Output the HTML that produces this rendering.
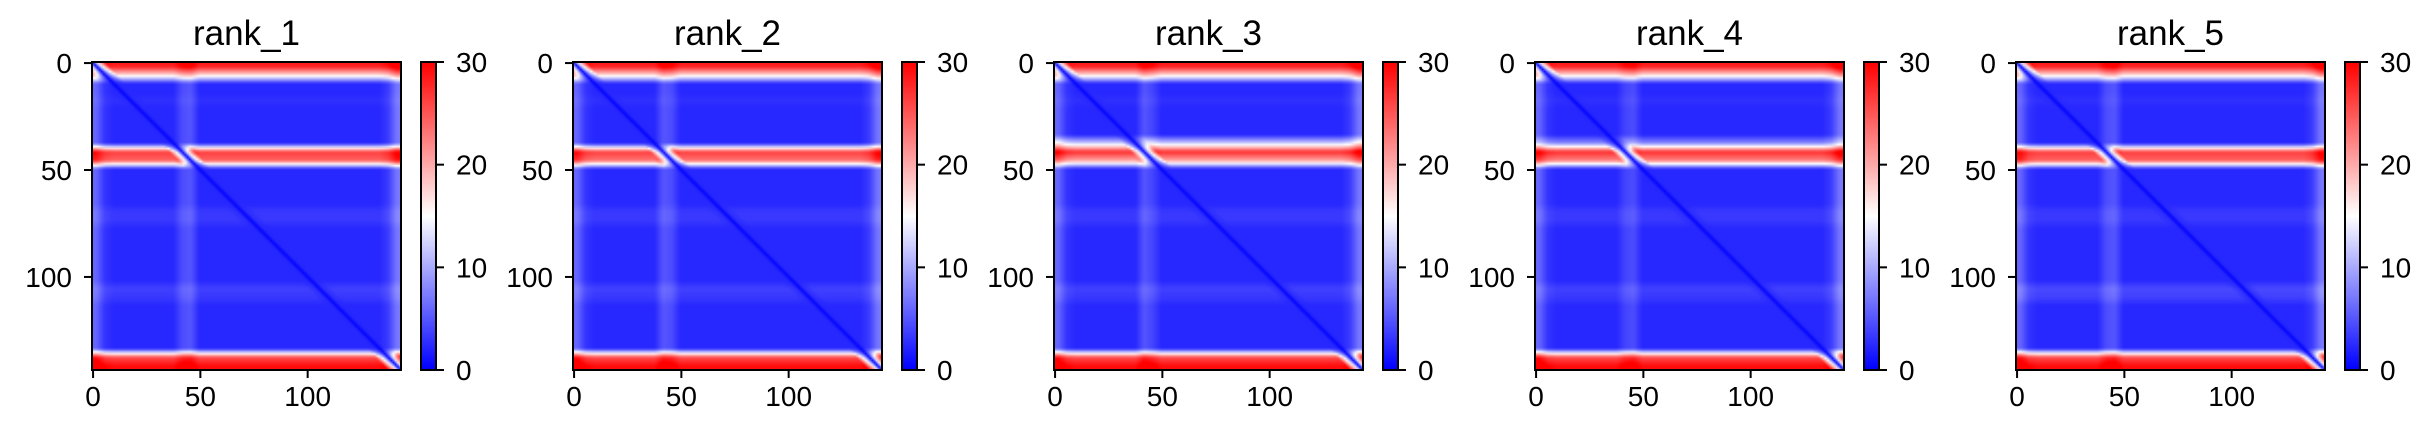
<!DOCTYPE html>
<html><head><meta charset="utf-8">
<style>
html,body{margin:0;padding:0;background:#fff;}
#fig{position:relative;width:2435px;height:438px;overflow:hidden;font-family:"Liberation Sans",sans-serif;}
</style></head>
<body>
<div id="fig"></div>
<script>
// residues and axis ticks
const nRes = 144;
const axisTicks = [0, 50, 100];
const cbarTicks = [0, 10, 20, 30];
const vmin = 0, vmax = 30;
const panelTitles = ["rank_1", "rank_2", "rank_3", "rank_4", "rank_5"];
// per-residue row error profiles in 4-residue bins (36 bins)
const rowErr1 = [28,17,2,2,2.5,2,2,2,2,2,26,24,2,2,2,2,2,3,3,2,2,2,2,2,2,2,3.5,3,2,2,2,2,2,2,25,29];
const rowErr2 = [28,17,2,2,2.5,2,2,2,2,2,26,23,2,2,2,2,2,3,3,2,2,2,2,2,2,2,3.5,3,2,2,2,2,2,2,25,29];
const rowErr3 = [28,17,2,2,2.5,2,2,2,2,12,27,20,2,2,2,2,2,3,3,2,2,2,2,2,2,2,3.5,3,2,2,2,2,2,2,25,29];
const rowErr4 = [28,17,2,2,2.5,2,2,2,2,8,27,22,2,2,2,2,2,3,3,2,2,2,2,2,2,2,3.5,3,2,2,2,2,2,2,25,29];
const rowErr5 = [28,17,2,2,2.5,2,2,2,2,2,26,24,2,2,2,2,2,3,3,2,2,2,2,2,2,2,4,3.5,2,2,2,2,2,2,25,29];
// column error profiles (36 bins)
const colErr1 = [4,1,0.3,0.3,0.3,0.3,0.3,0.3,0.3,0.3,2.5,3,0.3,0.3,0.3,0.3,0.3,0.3,0.3,0.3,0.3,0.3,0.3,0.3,0.3,0.3,0.3,0.3,0.3,0.3,0.3,0.3,0.3,0.3,1.5,5];
const colErr2 = [4,1,0.3,0.3,0.3,0.3,0.3,0.3,0.3,0.3,3,2.5,0.3,0.3,0.3,0.3,0.3,0.3,0.3,0.3,0.3,0.3,0.3,0.3,0.3,0.3,0.3,0.3,0.3,0.3,0.3,0.3,0.3,0.3,1.5,5];
const colErr3 = [4,1,0.3,0.3,0.3,0.3,0.3,0.3,0.3,0.3,3,2,0.3,0.3,0.3,0.3,0.3,0.3,0.3,0.3,0.3,0.3,0.3,0.3,0.3,0.3,0.3,0.3,0.3,0.3,0.3,0.3,0.3,0.3,1.5,5];
const colErr4 = [4,1,0.3,0.3,0.3,0.3,0.3,0.3,0.3,0.3,2,2.5,0.3,0.3,0.3,0.3,0.3,0.3,0.3,0.3,0.3,0.3,0.3,0.3,0.3,0.3,0.3,0.3,0.3,0.3,0.3,0.3,0.3,0.3,1.5,5];
const colErr5 = [4,1,0.3,0.3,0.3,0.3,0.3,0.3,0.3,0.3,2.5,3,0.3,0.3,0.3,0.3,0.3,0.3,0.3,0.3,0.3,0.3,0.3,0.3,0.3,0.3,0.3,0.3,0.3,0.3,0.3,0.3,0.3,0.3,1.5,5];
const rowErrs = [rowErr1,rowErr2,rowErr3,rowErr4,rowErr5];
const colErrs = [colErr1,colErr2,colErr3,colErr4,colErr5];

const fig = document.getElementById('fig');
const NS = 'http://www.w3.org/2000/svg';
const W = 309, H = 308, top0 = 62, panelStep = 481, left0 = 92;

function binVal(arr, r){
  const p = (r - 1.5) / 4;
  const i0 = Math.max(0, Math.min(arr.length-1, Math.floor(p)));
  const i1 = Math.min(arr.length-1, i0+1);
  const t = Math.max(0, Math.min(1, p - i0));
  return arr[i0]*(1-t) + arr[i1]*t;
}
function bwr(v){
  let t = Math.max(0, Math.min(1, (v - vmin)/(vmax - vmin)));
  let r,g,b;
  if (t < 0.5){ const s=t/0.5; r=255*s; g=255*s; b=255; }
  else { const s=(t-0.5)/0.5; r=255; g=255*(1-s); b=255*(1-s); }
  return 'rgb('+Math.round(r)+','+Math.round(g)+','+Math.round(b)+')';
}

panelTitles.forEach((title, p) => {
  const L = left0 + p*panelStep;
  const xS = v => L + (v + 0.5) * W / nRes;
  const yS = v => top0 + (v + 0.5) * H / nRes;
  const cvs = document.createElement('canvas');
  cvs.width = nRes; cvs.height = nRes;
  
  
  cvs.style.cssText = 'position:absolute;left:'+L+'px;top:'+top0+'px;width:'+W+'px;height:'+H+'px;';
  const ctx = cvs.getContext('2d');
  for (let i=0;i<nRes;i++){
    const re = binVal(rowErrs[p], i);
    for (let j=0;j<nRes;j++){
      const ce = binVal(colErrs[p], j);
      const d = Math.abs(i-j);
      const base = Math.min(re, 2);
      const extra = re - base;
      const v = 0.3 + (base - 0.3)*Math.min(1, d/2) + extra*Math.min(1, d/6) + ce*Math.min(1, d/3);
      ctx.fillStyle = bwr(v);
      ctx.fillRect(j, i, 1, 1);
    }
  }
  fig.appendChild(cvs);

  const cb = document.createElement('canvas');
  cb.width = 1; cb.height = 256;
  
  
  cb.style.cssText = 'position:absolute;left:'+(L+329)+'px;top:'+top0+'px;width:15px;height:'+H+'px;';
  const cx = cb.getContext('2d');
  for (let k=0;k<256;k++){ cx.fillStyle = bwr(vmax - (k+0.5)/256*(vmax-vmin)); cx.fillRect(0,k,1,1); }
  fig.appendChild(cb);

  const svg = document.createElementNS(NS,'svg');
  svg.setAttribute('width', 480); svg.setAttribute('height', 438);
  
  
  svg.style.cssText = 'position:absolute;left:'+(L-92)+'px;top:0;overflow:visible;';
  const ox = L - 92;
  function el(tag, attrs, txt){
    const e = document.createElementNS(NS, tag);
    for (const k in attrs) e.setAttribute(k, attrs[k]);
    if (txt !== undefined) e.textContent = txt;
    svg.appendChild(e); return e;
  }
  const t = el('text', {x: L - ox + W/2, y: 45, 'text-anchor':'middle', 'font-size':35, fill:'#000'}, title);
  
  
  const frame = el('rect', {x: L-ox, y: top0, width: W, height: H, fill:'none', stroke:'#000', 'stroke-width':2});
  
  
  axisTicks.forEach(v => {
    const x = xS(v) - ox, y = yS(v);
    el('line', {x1:x, x2:x, y1:top0+H, y2:top0+H+8, stroke:'#000','stroke-width':2});
    const xl = el('text', {x:x, y:top0+H+36, 'text-anchor':'middle','font-size':28}, String(v));
    
    
    el('line', {x1:L-ox-8, x2:L-ox, y1:y, y2:y, stroke:'#000','stroke-width':2});
    const yl = el('text', {x:L-ox-20, y:y+10, 'text-anchor':'end','font-size':28}, String(v));
    
    
  });
  const cbx = L + 329 - ox;
  const cbf = el('rect', {x: cbx, y: top0, width: 15, height: H, fill:'none', stroke:'#000', 'stroke-width':2});
  
  
  cbarTicks.forEach(v => {
    const y = top0 + H - (v - vmin)/(vmax - vmin)*H;
    el('line', {x1:cbx+15, x2:cbx+23, y1:y, y2:y, stroke:'#000','stroke-width':2});
    const cl = el('text', {x:cbx+35, y:y+10, 'font-size':28}, String(v));
    
    
  });
  fig.appendChild(svg);
});
</script>
</body></html>
